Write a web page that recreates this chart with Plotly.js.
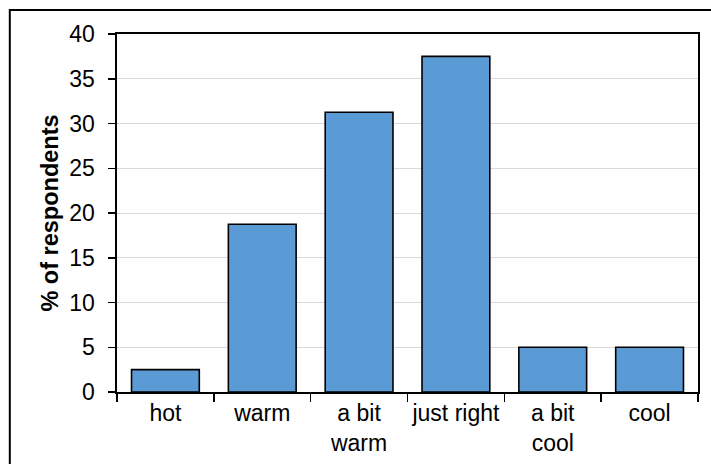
<!DOCTYPE html>
<html>
<head>
<meta charset="utf-8">
<script src="https://cdn.plot.ly/plotly-3.0.1.min.js"></script>
<style>
  html, body { margin: 0; padding: 0; background: #fff; }
  #chart { width: 711px; height: 464px; }
</style>
</head>
<body>
<div id="chart"></div>
<script>
// Thermal sensation votes
const categories = ['hot', 'warm', 'a bit<br>warm', 'just right', 'a bit<br>cool', 'cool'];
const percentRespondents = [2.5, 18.75, 31.25, 37.5, 5, 5];
const yTickValues = [0, 5, 10, 15, 20, 25, 30, 35, 40];

const font = 'Liberation Sans, Arial, sans-serif';

const trace = {
  type: 'bar',
  x: categories,
  y: percentRespondents,
  marker: { color: '#5b9bd5', line: { color: '#000000', width: 1.6 } },
  hoverinfo: 'x+y'
};

const layout = {
  width: 711,
  height: 464,
  margin: { l: 117, r: 13, t: 34, b: 72 },
  paper_bgcolor: '#ffffff',
  plot_bgcolor: '#ffffff',
  bargap: 0.3,
  showlegend: false,
  font: { family: font, size: 23, color: '#000000' },
  xaxis: {
    type: 'category',
    tickson: 'boundaries',
    ticks: 'outside',
    ticklen: 8,
    tickwidth: 1.5,
    tickcolor: '#000000',
    tickangle: 0,
    showline: true,
    linecolor: '#000000',
    linewidth: 1.6,
    mirror: true,
    showgrid: false,
    tickfont: { family: font, size: 23, color: '#000000' },
    fixedrange: true
  },
  yaxis: {
    range: [0, 40],
    tickvals: yTickValues,
    ticktext: yTickValues.map(String),
    ticks: 'outside',
    ticklen: 7,
    tickwidth: 1.5,
    tickcolor: '#000000',
    ticklabelstandoff: 9,
    showline: true,
    linecolor: '#000000',
    linewidth: 1.6,
    mirror: true,
    showgrid: true,
    gridcolor: '#d9d9d9',
    gridwidth: 1,
    zeroline: false,
    tickfont: { family: font, size: 23, color: '#000000' },
    title: {
      text: '<b>% of respondents</b>',
      font: { family: font, size: 23.5, color: '#000000' },
      standoff: 4
    },
    fixedrange: true
  },
  shapes: [{
    type: 'rect',
    xref: 'paper', yref: 'paper',
    x0: -0.1845, x1: 1.2,
    y0: -0.3, y1: 1.067,
    line: { color: '#000000', width: 2 },
    fillcolor: 'rgba(0,0,0,0)',
    layer: 'above'
  }]
};

Plotly.newPlot('chart', [trace], layout, { displayModeBar: false, staticPlot: true });
</script>
</body>
</html>
